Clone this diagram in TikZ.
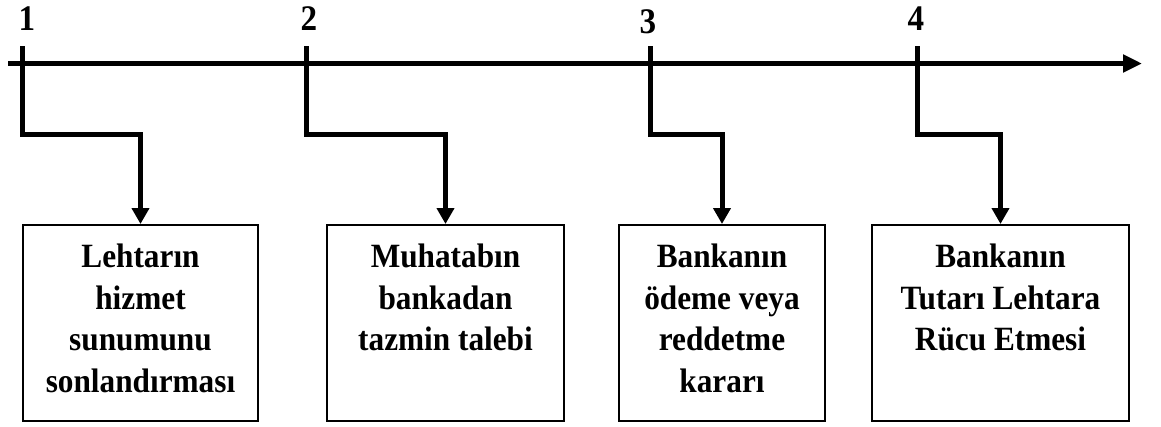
\documentclass[tikz,border=0pt]{standalone}
\usepackage{fontspec}
\setmainfont{Liberation Serif}
\newfontfamily\narrowserif[FakeStretch=0.92]{Liberation Serif}
\usetikzlibrary{arrows.meta}

% top-aligned, centred multi-line text inside a fixed-height box
\newcommand\boxtxt[1]{\vbox to 196pt{\vskip 13.7pt\hbox{\begin{tabular}{@{}c@{}}#1\end{tabular}}\vfill}}

\begin{document}
\begin{tikzpicture}[x=1pt, y=-1pt,
  axis/.style={line width=5pt, -{Triangle[length=19pt, width=17pt]}},
  conn/.style={line width=5pt, line join=miter, -{Triangle[length=16pt, width=17pt]}},
  stepbox/.style={draw, line width=2pt, inner sep=0pt, minimum height=196pt,
    anchor=north, font=\narrowserif\fontsize{34}{41.5}\selectfont\bfseries},
  num/.style={anchor=base, font=\narrowserif\fontsize{36}{40}\selectfont\bfseries}]
  \useasboundingbox (0,0) rectangle (1161,426);

  % time axis
  \coordinate (a0) at (8,63.5);
  \coordinate (a1) at (1142,63.5);
  \draw[axis] (a0) -- (a1);

  % stage numbers
  \node[num] (n1) at (27,30.7) {1};
  \node[num] (n2) at (309,30.7) {2};
  \node[num] (n3) at (648,33.5) {3};
  \node[num] (n4) at (916,30.7) {4};

  % tick tops on the axis
  \coordinate (t1) at (22.5,46);
  \coordinate (t2) at (306.7,46);
  \coordinate (t3) at (650,46);
  \coordinate (t4) at (917,46);

  % stage boxes
  \node[stepbox, minimum width=235pt] (b1) at (140.5,224)
    {\boxtxt{Lehtarın\\hizmet\\sunumunu\\sonlandırması}};
  \node[stepbox, minimum width=237pt] (b2) at (445.5,224)
    {\boxtxt{Muhatabın\\bankadan\\tazmin talebi}};
  \node[stepbox, minimum width=206pt] (b3) at (722,224)
    {\boxtxt{Bankanın\\ödeme veya\\reddetme\\kararı}};
  \node[stepbox, minimum width=257pt] (b4) at (1000.5,224)
    {\boxtxt{Bankanın\\Tutarı Lehtara\\Rücu Etmesi}};

  % connectors from the axis to the boxes
  \draw[conn] (t1) -- ++(0,88) -| (b1.north);
  \draw[conn] (t2) -- ++(0,88) -| (b2.north);
  \draw[conn] (t3) -- ++(0,88) -| (b3.north);
  \draw[conn] (t4) -- ++(0,88) -| (b4.north);
\end{tikzpicture}
\end{document}
